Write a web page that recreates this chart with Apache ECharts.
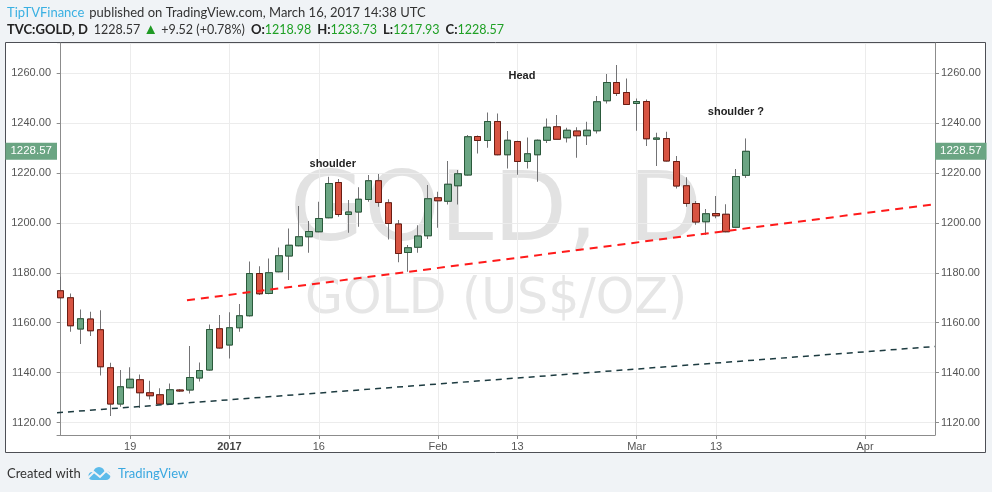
<!DOCTYPE html>
<html><head><meta charset="utf-8">
<script src="https://cdn.jsdelivr.net/npm/echarts@6/dist/echarts.min.js"></script>
<style>html,body{margin:0;padding:0;background:#f0f3f6;}#c{width:992px;height:492px;}</style>
</head><body><div id="c"></div>
<script>
// trading sessions (index = x position on the axis)
const sessions = ['2016-12-08','2016-12-09','2016-12-12','2016-12-13','2016-12-14','2016-12-15','2016-12-16',
 '2016-12-19','2016-12-20','2016-12-21','2016-12-22','2016-12-23','2016-12-26','2016-12-27','2016-12-28','2016-12-29','2016-12-30',
 '2017-01-03','2017-01-04','2017-01-05','2017-01-06','2017-01-09','2017-01-10','2017-01-11','2017-01-12','2017-01-13',
 '2017-01-16','2017-01-17','2017-01-18','2017-01-19','2017-01-20','2017-01-23','2017-01-24','2017-01-25','2017-01-26','2017-01-27',
 '2017-01-30','2017-01-31','2017-02-01','2017-02-02','2017-02-03','2017-02-06','2017-02-07','2017-02-08','2017-02-09','2017-02-10',
 '2017-02-13','2017-02-14','2017-02-15','2017-02-16','2017-02-17','2017-02-20','2017-02-21','2017-02-22','2017-02-23','2017-02-24',
 '2017-02-27','2017-02-28','2017-03-01','2017-03-02','2017-03-03','2017-03-06','2017-03-07','2017-03-08','2017-03-09','2017-03-10',
 '2017-03-13','2017-03-14','2017-03-15','2017-03-16'];
const opens = [1172.8,1170.0,1157.5,1161.5,1157.2,1142.0,1127.5,1134.0,1137.2,1132.0,
 1131.2,1127.5,1133.1,1133.1,1137.9,1141.1,1157.6,1151.1,1158.0,1162.8,
 1179.7,1171.7,1180.4,1186.7,1190.8,1194.4,1196.4,1202.0,1216.1,1203.3,
 1204.3,1209.3,1216.8,1208.0,1199.5,1188.1,1190.2,1194.8,1210.0,1208.6,
 1214.8,1219.1,1234.5,1232.9,1240.5,1227.2,1232.5,1224.5,1227.2,1233.0,
 1238.4,1234.0,1236.7,1234.8,1236.8,1248.8,1256.1,1252.1,1247.7,1248.5,
 1233.4,1233.7,1224.5,1214.8,1207.7,1200.4,1203.7,1203.4,1198.2,1218.98];
const closes = [1170.0,1158.8,1161.6,1156.8,1142.4,1127.5,1134.4,1137.4,1132.0,1130.8,
 1127.5,1133.2,1132.7,1138.1,1140.9,1157.3,1149.9,1158.0,1162.8,1179.7,
 1171.6,1180.0,1186.8,1191.0,1194.4,1196.5,1201.7,1215.7,1203.3,1204.3,
 1209.4,1216.8,1208.1,1199.7,1187.7,1190.0,1194.7,1209.6,1208.8,1215.4,
 1219.6,1234.4,1232.9,1240.5,1227.2,1233.0,1224.5,1227.6,1233.0,1238.2,
 1233.4,1237.0,1234.8,1237.0,1248.4,1256.1,1251.7,1247.3,1248.5,1233.6,
 1233.9,1224.7,1214.7,1207.7,1200.3,1203.6,1202.8,1196.4,1218.5,1228.57];
const lows = [1169.4,1156.4,1151.5,1154.7,1138.9,1122.7,1126.4,1133.8,1125.9,1129.3,
 1127.3,1127.2,1132.3,1131.7,1136.5,1140.8,1149.6,1145.7,1156.4,1162.5,
 1171.1,1171.4,1180.2,1177.1,1190.6,1188.0,1196.2,1201.8,1202.4,1196.0,
 1198.4,1208.4,1206.4,1193.3,1184.2,1180.4,1188.0,1193.5,1198.0,1207.3,
 1207.3,1218.9,1227.7,1230.0,1227.0,1221.7,1219.2,1221.7,1216.4,1231.9,
 1233.2,1232.1,1226.0,1231.1,1235.7,1247.7,1250.7,1247.1,1236.8,1230.7,
 1222.7,1224.5,1213.7,1206.4,1199.2,1195.1,1201.8,1196.2,1198.0,1217.93];
const highs = [1178.4,1171.7,1165.3,1164.4,1165.0,1144.0,1141.1,1142.2,1139.3,1136.8,
 1133.8,1135.7,1133.5,1150.7,1144.1,1159.3,1163.1,1164.2,1167.5,1184.5,
 1182.6,1185.7,1190.1,1197.7,1206.7,1200.7,1208.4,1218.4,1217.5,1209.1,
 1214.2,1219.1,1219.5,1209.4,1201.1,1191.1,1199.0,1215.1,1212.4,1224.7,
 1221.1,1235.1,1234.9,1244.1,1243.7,1236.7,1232.8,1234.1,1233.3,1241.7,
 1243.1,1238.0,1238.2,1240.4,1250.7,1259.5,1263.1,1257.7,1249.7,1249.3,
 1236.0,1236.4,1226.7,1218.2,1208.7,1205.5,1210.7,1207.4,1221.5,1233.73];
// x-axis tick labels (session index -> label)
const tickIdx = [7, 17, 26, 38, 46, 58, 66, 81];
const tickLabels = ['19', '2017', '16', 'Feb', '13', 'Mar', '13', 'Apr'];
const lastPrice = 1228.57;
// hand-drawn trend lines [session index, price]
const trendRed = [[12.72, 1169.0], [88.05, 1207.45]];
const trendDark = [[-0.37, 1124.0], [88.05, 1150.5]];
// annotations
const noteText = ['shoulder', 'Head', 'shoulder ?'];
const notePos = [[27.4, 1223.5], [46.45, 1258.7], [68.0, 1244.3]];

const wickData = sessions.map((d, i) => [i, opens[i], closes[i], lows[i], highs[i]]);
const bodyData = sessions.map((d, i) => [i, opens[i], closes[i], Math.min(opens[i], closes[i]), Math.max(opens[i], closes[i])]);

const chart = echarts.init(document.getElementById('c'), null, {renderer: 'canvas'});
const axisGray = '#8c8c8c';
const sansF = '"Liberation Sans", Arial, sans-serif';
const labelFont = {color: '#555', fontSize: 11, fontFamily: sansF};
const hdrFont = 'Lato, "Open Sans", sans-serif';

const yCommon = {
  type: 'value', min: 1115.1, max: 1271.9, minInterval: 20, maxInterval: 20,
  axisLine: {show: true, lineStyle: {color: axisGray}},
  axisTick: {show: true, length: 4, lineStyle: {color: axisGray}},
  axisLabel: Object.assign({margin: 6, showMinLabel: false, showMaxLabel: false, formatter: v => v.toFixed(2)}, labelFont)
};

chart.setOption({
  animation: false,
  backgroundColor: '#f0f3f6',
  title: [
    {left: 7, top: 4, padding: 0,
     text: '{a|TipTVFinance} {b|published on TradingView.com, March 16, 2017 14:38 UTC}',
     textStyle: {fontWeight: 'normal', rich: {
       a: {color: '#3ab0e2', fontSize: 13, fontWeight: 'normal', fontFamily: hdrFont},
       b: {color: '#333', fontSize: 13, fontWeight: 'normal', fontFamily: hdrFont}}}},
    {left: 7, top: 22, padding: 0,
     text: '{k|TVC:GOLD, D}{n1|1228.57}{g|▲}{n|+9.52 (+0.78%)}{k1|O:}{v|1218.98}{k1|H:}{v|1233.73}{k1|L:}{v|1217.93}{k1|C:}{v|1228.57}',
     textStyle: {fontWeight: 'normal', rich: {
       k: {color: '#222', fontSize: 13, fontWeight: 'bold', fontFamily: hdrFont},
       k1: {color: '#222', fontSize: 13, fontWeight: 'bold', fontFamily: hdrFont, padding: [0, 0, 0, 6]},
       n1: {color: '#333', fontSize: 12.5, fontWeight: 'normal', fontFamily: hdrFont, padding: [0, 0, 0, 6]},
       n: {color: '#333', fontSize: 12.5, fontWeight: 'normal', fontFamily: hdrFont},
       g: {color: '#1f9a24', fontSize: 15, fontWeight: 'normal', fontFamily: hdrFont, padding: [0, 3, 0, 3]},
       v: {color: '#1fa025', fontSize: 12.5, fontWeight: 'normal', fontFamily: hdrFont}}}}
  ],
  graphic: [
    {type: 'rect', z: -20, shape: {x: 5.5, y: 42.5, width: 980, height: 410}, style: {fill: '#ffffff', stroke: '#4d4f55', lineWidth: 1}},
    {type: 'text', z: -10, x: 496, y: 215, style: {text: 'GOLD, D', fill: '#e2e2e2', font: '96px "DejaVu Sans"', textAlign: 'center', textVerticalAlign: 'middle'}},
    {type: 'text', z: -10, x: 496, y: 300, style: {text: 'GOLD (US$/OZ)', fill: '#e6e6e6', font: '49px "DejaVu Sans"', textAlign: 'center', textVerticalAlign: 'middle'}},
    {type: 'text', x: 7, y: 474, style: {text: 'Created with', fill: '#333', font: '13px Lato', textVerticalAlign: 'middle'}},
    {type: 'circle', shape: {cx: 92.5, cy: 476, r: 4}, style: {fill: '#5cbbea'}},
    {type: 'circle', shape: {cx: 99, cy: 472.5, r: 5.5}, style: {fill: '#5cbbea'}},
    {type: 'circle', shape: {cx: 106, cy: 475.5, r: 4.5}, style: {fill: '#5cbbea'}},
    {type: 'rect', shape: {x: 92.5, y: 474, width: 13.5, height: 6}, style: {fill: '#5cbbea'}},
    {type: 'polyline', shape: {points: [[87, 479], [94, 472], [100, 477], [106, 471], [112, 476]]}, style: {stroke: '#f0f3f6', lineWidth: 2, fill: null}},
    {type: 'text', x: 118, y: 474, style: {text: 'TradingView', fill: '#3aa8e0', font: '13px Lato', textVerticalAlign: 'middle'}}
  ],
  grid: {left: 57, right: 57, top: 43, bottom: 57, containLabel: false},
  xAxis: {
    type: 'value', min: -0.37, max: 88.05,
    axisLine: {show: true, onZero: false, lineStyle: {color: axisGray}},
    axisTick: {show: true, length: 4, customValues: tickIdx, lineStyle: {color: axisGray}},
    axisLabel: Object.assign({margin: 6, customValues: tickIdx,
      formatter: v => { const k = tickIdx.indexOf(Math.round(v)); if (k < 0) return ''; return tickLabels[k] === '2017' ? '{b|2017}' : tickLabels[k]; },
      rich: {b: {fontWeight: 'bold', color: '#444', fontSize: 11, fontFamily: sansF}}}, labelFont),
    splitLine: {show: false}
  },
  yAxis: [
    Object.assign({}, yCommon, {position: 'left', splitLine: {show: true, lineStyle: {color: '#ececec'}}}),
    Object.assign({}, yCommon, {position: 'right', splitLine: {show: false}})
  ],
  series: [
    {type: 'candlestick', name: 'wicks', data: wickData, barWidth: 7, z: 2, silent: true,
     itemStyle: {color: '#737375', color0: '#737375', borderColor: '#737375', borderColor0: '#737375', borderWidth: 1},
     markLine: {silent: true, z: 1, symbol: ['none', 'none'], label: {show: false},
       lineStyle: {color: '#ececec', type: 'solid', width: 1},
       data: tickIdx.map(i => ({xAxis: i}))}},
    {type: 'candlestick', name: 'GOLD', data: bodyData, barWidth: 7, z: 3,
     itemStyle: {color: '#6ba583', color0: '#d75442', borderColor: '#2a5a3b', borderColor0: '#6b1d13', borderWidth: 1}},
    {type: 'line', data: trendDark, symbol: 'none', z: 4, silent: true,
     lineStyle: {color: '#1d3b40', width: 1.5, type: [6, 5]},
     markPoint: {symbol: 'circle', symbolSize: 1, itemStyle: {color: 'rgba(0,0,0,0)'},
       label: {show: true, position: 'inside', formatter: '{b}', color: '#222', fontWeight: 'bold', fontSize: 11, fontFamily: sansF},
       data: noteText.map((t, i) => ({name: t, coord: notePos[i]}))}},
    {type: 'line', data: trendRed, symbol: 'none', z: 4, silent: true,
     lineStyle: {color: '#ff1a1a', width: 2, type: [8, 6]},
     markLine: {silent: true, z: 6, symbol: ['none', 'none'], lineStyle: {color: 'rgba(0,0,0,0)', width: 0, type: 'solid'},
       label: {show: true, formatter: lastPrice.toFixed(2), color: '#ffffff', backgroundColor: '#6ba583', opacity: 1,
         padding: [3, 5, 2, 5], distance: 0, fontSize: 11.5, fontFamily: sansF},
       data: [{yAxis: lastPrice, label: {position: 'start'}}, {yAxis: lastPrice, label: {position: 'end'}}]}}
  ]
});
</script></body></html>
